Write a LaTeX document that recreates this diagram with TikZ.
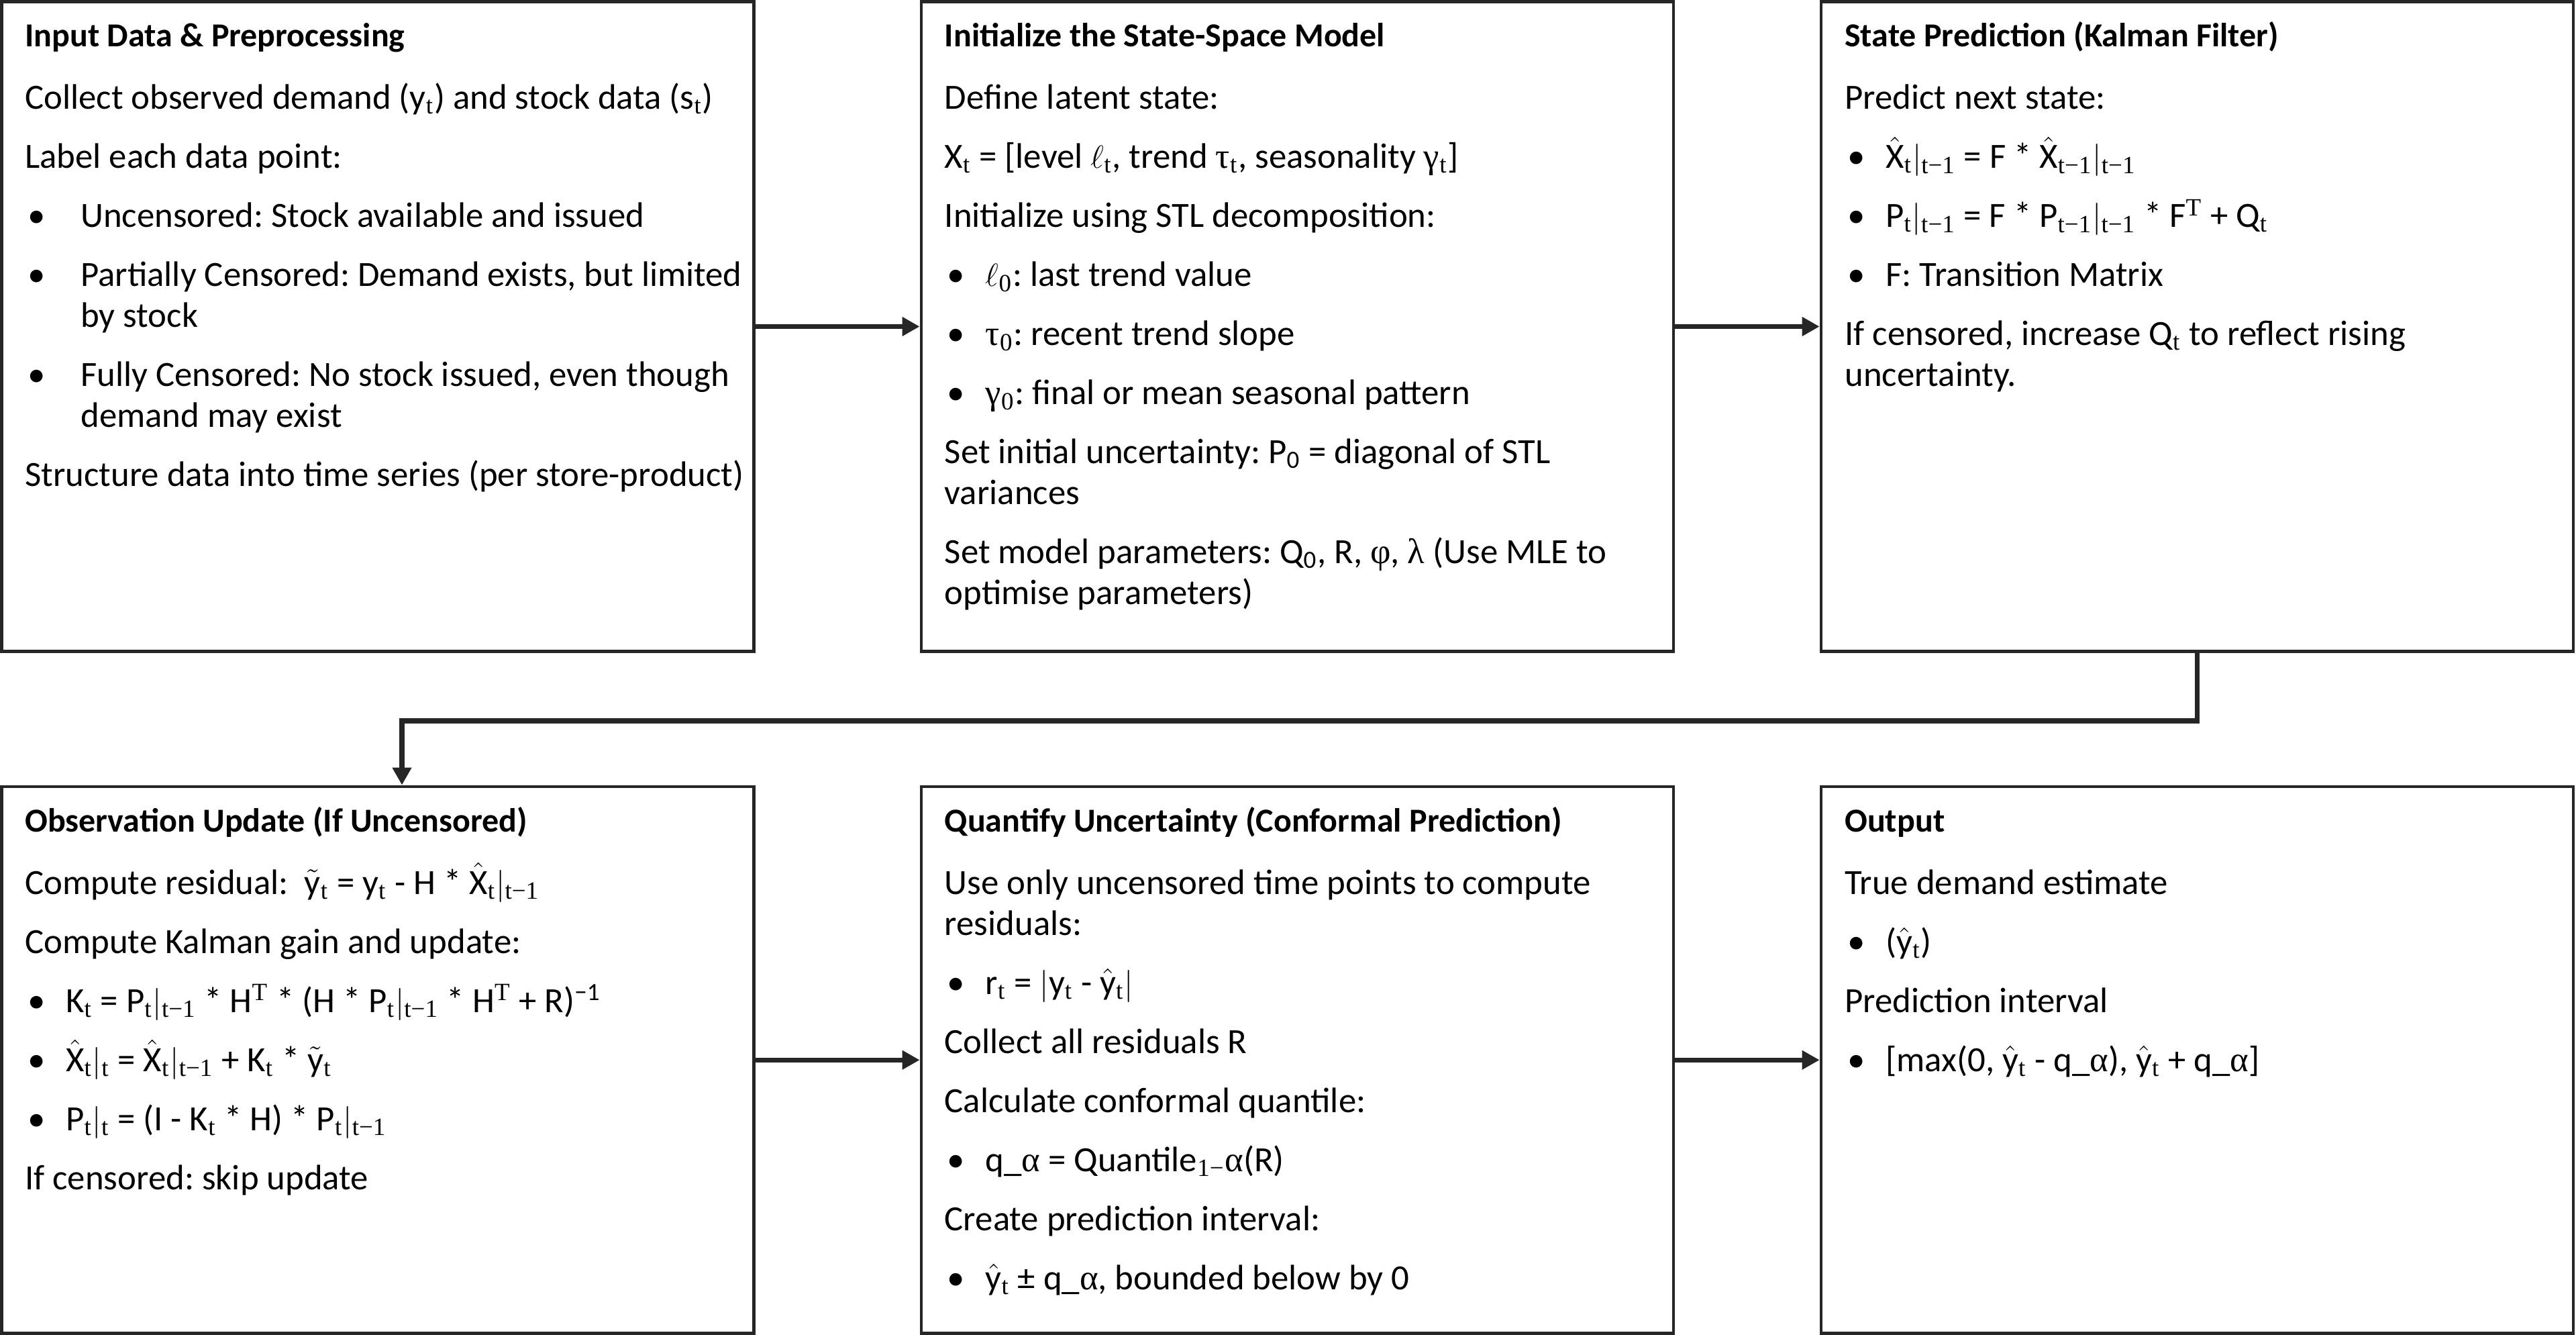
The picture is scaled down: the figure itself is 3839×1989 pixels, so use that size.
\documentclass[tikz,border=0pt]{standalone}
\usepackage{fontspec}
\setmainfont{Carlito}
\newfontfamily\rmm{Liberation Serif}
\usetikzlibrary{arrows.meta}
\definecolor{ln}{HTML}{262626}
\frenchspacing
\newlength\bind
\newcommand\sbs[1]{\textsubscript{\rmm #1}}
\newcommand\sps[1]{\textsuperscript{\rmm #1}}
\newcommand\hX{$\hat{\mbox{X}}$}
\newcommand\hy{$\hat{\mbox{y}}$}
\newcommand\ty{$\tilde{\mbox{y}}$}
\newcommand\vb{$|$}
\newcommand\ttl[1]{{\fontsize{12.5pt}{15.25pt}\selectfont\bfseries #1\par}\vspace{1.25pt}}
\newcommand\bp[1]{\par\hangindent=\bind\hangafter=1\noindent\makebox[\bind][l]{\kern1pt •}#1\par}
\newcommand\pp[1]{\par\noindent #1\par}
\newcommand\bodyfmt{\fontsize{13.2pt}{15.25pt}\selectfont\frenchspacing\parindent=0pt\parskip=6.75pt\lineskiplimit=-100pt\raggedright}
\newcommand\boxtext[2]{\parbox[t]{270pt}{\bodyfmt\setlength\bind{#1}#2}}
\begin{document}
\begin{tikzpicture}[x=0.25pt,y=-0.25pt,
  box/.style={draw=ln, line width=1.2pt, minimum width=280.25pt, inner sep=0pt},
  rowa/.style={minimum height=242pt},
  rowb/.style={minimum height=203.6pt},
  conn/.style={draw=ln, line width=1.8pt, -{Triangle[length=6.5pt,width=6.8pt]}},
  txt/.style={anchor=base west, inner sep=0pt}]
\useasboundingbox (0,0) rectangle (3839,1989);
% boxes
\node[box,rowa] (b1) at (563,486.5) {};
\node[box,rowa] (b2) at (1933.5,486.5) {};
\node[box,rowa] (b3) at (3274.5,486.5) {};
\node[box,rowb] (b4) at (563,1579.25) {};
\node[box,rowb] (b5) at (1933.5,1579.25) {};
\node[box,rowb] (b6) at (3274.5,1579.25) {};
% texts
\node[txt] (t1) at (36.5,69.5) {\boxtext{20.75pt}{%
\ttl{Input Data \& Preprocessing}
\pp{Collect observed demand (y\sbs{t}) and stock data (s\sbs{t})}
\pp{Label each data point:}
\bp{Uncensored: Stock available and issued}
\bp{Partially Censored: Demand exists, but limited\newline by stock}
\bp{Fully Censored: No stock issued, even though\newline demand may exist}
\pp{Structure data into time series (per store-product)}}};
\node[txt] (t2) at (1407,69.5) {\boxtext{15.25pt}{%
\ttl{Initialize the State-Space Model}
\pp{Define latent state:}
\pp{X\sbs{t} = [level $\ell$\sbs{t}, trend {\rmm τ}\sbs{t}, seasonality {\rmm γ}\sbs{t}]}
\pp{Initialize using STL decomposition:}
\bp{$\ell$\sbs{0}: last trend value}
\bp{{\rmm τ}\sbs{0}: recent trend slope}
\bp{{\rmm γ}\sbs{0}: final or mean seasonal pattern}
\pp{Set initial uncertainty: P\textsubscript{0} = diagonal of STL\newline variances}
\pp{Set model parameters: Q\textsubscript{0}, R, {\rmm φ}, {\rmm λ} (Use MLE to\newline optimise parameters)}}};
\node[txt] (t3) at (2748.5,69.5) {\boxtext{15.25pt}{%
\ttl{State Prediction (Kalman Filter)}
\pp{Predict next state:}
\bp{\hX\sbs{t}\vb\sbs{t−1} = F * \hX\sbs{t−1}\vb\sbs{t−1}}
\bp{P\sbs{t}\vb\sbs{t−1} = F * P\sbs{t−1}\vb\sbs{t−1} * F\sps{T} + Q\sbs{t}}
\bp{F: Transition Matrix}
\pp{If censored, increase Q\sbs{t} to reflect rising\newline uncertainty.}}};
\node[txt] (t4) at (36.5,1239) {\boxtext{15.25pt}{%
\ttl{Observation Update (If Uncensored)}
\pp{Compute residual: \ \ty\sbs{t} = y\sbs{t} - H * \hX\sbs{t}\vb\sbs{t−1}}
\pp{Compute Kalman gain and update:}
\bp{K\sbs{t} = P\sbs{t}\vb\sbs{t−1} * H\sps{T} * (H * P\sbs{t}\vb\sbs{t−1} * H\sps{T} + R)\textsuperscript{−1}}
\bp{\hX\sbs{t}\vb\sbs{t} = \hX\sbs{t}\vb\sbs{t−1} + K\sbs{t} * \ty\sbs{t}}
\bp{P\sbs{t}\vb\sbs{t} = (I - K\sbs{t} * H) * P\sbs{t}\vb\sbs{t−1}}
\pp{If censored: skip update}}};
\node[txt] (t5) at (1407,1239) {\boxtext{15.25pt}{%
\ttl{Quantify Uncertainty (Conformal Prediction)}
\pp{Use only uncensored time points to compute\newline residuals:}
\bp{r\sbs{t} = \vb y\sbs{t} - \hy\sbs{t}\vb}
\pp{Collect all residuals R}
\pp{Calculate conformal quantile:}
\bp{q\_{\rmm α} = Quantile\sbs{1−}{\rmm α}(R)}
\pp{Create prediction interval:}
\bp{\hy\sbs{t} ± q\_{\rmm α}, bounded below by 0}}};
\node[txt] (t6) at (2748.5,1239) {\boxtext{15.25pt}{%
\ttl{Output}
\pp{True demand estimate}
\bp{(\hy\sbs{t})}
\pp{Prediction interval}
\bp{[max(0, \hy\sbs{t} - q\_{\rmm α}), \hy\sbs{t} + q\_{\rmm α}]}}};
% connectors
\draw[conn] (b1.east) -- (b2.west);
\draw[conn] (b2.east) -- (b3.west);
\coordinate (k1) at (3274.5,1074);
\coordinate (k2) at (599,1074);
\draw[conn] (b3.south) -- (k1) -- (k2) -- (k2 |- b4.north);
\draw[conn] (b4.east) -- (b5.west);
\draw[conn] (b5.east) -- (b6.west);
\end{tikzpicture}
\end{document}
